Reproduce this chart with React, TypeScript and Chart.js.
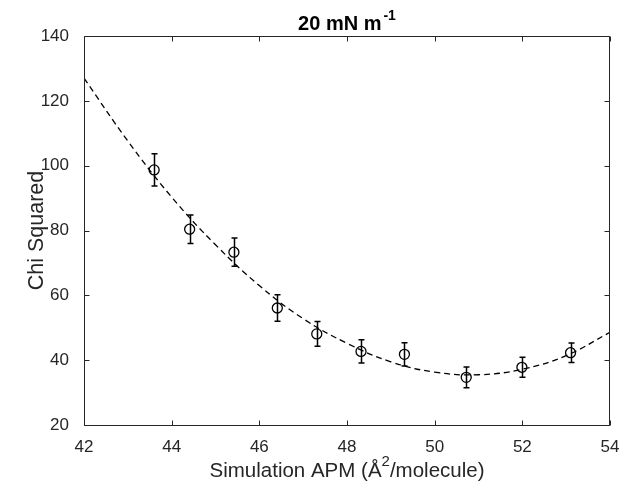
import React, { useEffect, useRef } from "react";
import { Chart, registerables } from "chart.js";

Chart.register(...registerables);

// Measured data points (Simulation APM vs Chi Squared)
const pointX = [43.6, 44.41, 45.42, 46.41, 47.31, 48.32, 49.31, 50.72, 51.99, 53.1];
const pointY = [98.7, 80.4, 73.3, 56.1, 48.1, 42.7, 41.8, 34.7, 37.8, 42.3];
const errorY = [5.0, 4.4, 4.35, 4.1, 3.8, 3.6, 3.6, 3.2, 3.1, 3.0];

// Dashed fit curve
const fitX = [42, 43, 44, 45, 46, 47, 48, 49, 50, 51, 52, 53, 54];
const fitY = [127, 107.6, 90.3, 75.6, 63, 52.8, 45.2, 39.5, 36.3, 35.5, 37.2, 41.4, 48.6];

const xTicks = [42, 44, 46, 48, 50, 52, 54];
const yTicks = [20, 40, 60, 80, 100, 120, 140];

const FONT = '"Liberation Sans", Arial, Helvetica, sans-serif';
const AXIS_COLOR = "#262626";

const decor = {
  id: "decor",
  afterDatasetsDraw(chart: any) {
    const { ctx, chartArea: a, scales } = chart;
    const x = scales.x;
    const y = scales.y;
    ctx.save();
    // error bars
    ctx.strokeStyle = "#000";
    ctx.lineWidth = 1.5;
    pointX.forEach((px, i) => {
      const cx = Math.round(x.getPixelForValue(px)) + 0.5;
      const top = y.getPixelForValue(pointY[i] + errorY[i]);
      const bot = y.getPixelForValue(pointY[i] - errorY[i]);
      ctx.beginPath();
      ctx.moveTo(cx, top);
      ctx.lineTo(cx, bot);
      ctx.moveTo(cx - 3, top);
      ctx.lineTo(cx + 3, top);
      ctx.moveTo(cx - 3, bot);
      ctx.lineTo(cx + 3, bot);
      ctx.stroke();
    });

    // axes box
    ctx.strokeStyle = AXIS_COLOR;
    ctx.lineWidth = 1;
    const L = a.left + 0.5;
    const R = a.right - 0.5;
    const T = a.top + 0.5;
    const B = a.bottom + 0.5;
    ctx.beginPath();
    ctx.rect(L, T, R - L, B - T);
    ctx.stroke();

    // inward tick marks
    const tl = 5;
    ctx.beginPath();
    xTicks.forEach((v) => {
      const px = Math.round(x.getPixelForValue(v)) + 0.5;
      ctx.moveTo(px, B);
      ctx.lineTo(px, B - tl);
      ctx.moveTo(px, T);
      ctx.lineTo(px, T + tl);
    });
    yTicks.forEach((v) => {
      const py = Math.round(y.getPixelForValue(v)) + 0.5;
      ctx.moveTo(L, py);
      ctx.lineTo(L + tl, py);
      ctx.moveTo(R, py);
      ctx.lineTo(R - tl, py);
    });
    ctx.stroke();

    const cxMid = (a.left + a.right) / 2;

    // title: 20 mN m^-1
    ctx.fillStyle = "#000";
    ctx.textBaseline = "alphabetic";
    ctx.textAlign = "left";
    const tMain = "20 mN m";
    const tSup = "-1";
    ctx.font = `bold 20px ${FONT}`;
    const wMain = ctx.measureText(tMain).width;
    ctx.font = `bold 14px ${FONT}`;
    const wSup = ctx.measureText(tSup).width;
    const tStart = cxMid - (wMain + wSup + 2) / 2;
    ctx.font = `bold 20px ${FONT}`;
    ctx.fillText(tMain, tStart, 30);
    ctx.font = `bold 14px ${FONT}`;
    ctx.fillText(tSup, tStart + wMain + 2, 20);

    // x label
    ctx.fillStyle = AXIS_COLOR;
    const xl1 = "Simulation APM (Å";
    const xl2 = "2";
    const xl3 = "/molecule)";
    ctx.font = `20.5px ${FONT}`;
    const w1 = ctx.measureText(xl1).width;
    const w3 = ctx.measureText(xl3).width;
    ctx.font = `15px ${FONT}`;
    const w2 = ctx.measureText(xl2).width;
    const xs = cxMid - (w1 + w2 + w3) / 2;
    ctx.font = `20.5px ${FONT}`;
    ctx.fillText(xl1, xs, 477);
    ctx.font = `15px ${FONT}`;
    ctx.fillText(xl2, xs + w1, 466);
    ctx.font = `20.5px ${FONT}`;
    ctx.fillText(xl3, xs + w1 + w2, 477);

    // y label
    ctx.save();
    ctx.translate(43, (a.top + a.bottom) / 2);
    ctx.rotate(-Math.PI / 2);
    ctx.textAlign = "center";
    ctx.font = `21.5px ${FONT}`;
    ctx.fillText("Chi Squared", 0, 0);
    ctx.restore();

    ctx.restore();
  },
};

export default function App() {
  const ref = useRef<HTMLCanvasElement | null>(null);
  useEffect(() => {
    if (!ref.current) return;
    const chart = new Chart(ref.current, {
      type: "scatter",
      data: {
        datasets: [
          {
            type: "line",
            label: "fit",
            data: fitX.map((v, i) => ({ x: v, y: fitY[i] })),
            borderColor: "#000",
            borderWidth: 1.3,
            borderDash: [6, 4],
            pointRadius: 0,
            tension: 0.4,
            fill: false,
          } as any,
          {
            type: "scatter",
            label: "data",
            data: pointX.map((v, i) => ({ x: v, y: pointY[i] })),
            borderColor: "#000",
            backgroundColor: "rgba(0,0,0,0)",
            borderWidth: 1.3,
            pointRadius: 5,
            pointStyle: "circle",
          },
        ],
      },
      options: {
        animation: false,
        responsive: false,
        layout: { padding: { top: 36, right: 14, left: 0, bottom: 0 } },
        plugins: {
          legend: { display: false },
          tooltip: { enabled: false },
          title: { display: false },
        },
        scales: {
          x: {
            type: "linear",
            min: 42,
            max: 54,
            grid: { display: false },
            border: { display: false },
            afterFit: (s: any) => {
              s.height = 61;
            },
            afterBuildTicks: (s: any) => {
              s.ticks = xTicks.map((v) => ({ value: v }));
            },
            ticks: {
              color: AXIS_COLOR,
              font: { size: 17, family: FONT },
              padding: 4,
              maxRotation: 0,
            },
          },
          y: {
            type: "linear",
            min: 20,
            max: 140,
            grid: { display: false },
            border: { display: false },
            afterFit: (s: any) => {
              s.width = 84;
            },
            afterBuildTicks: (s: any) => {
              s.ticks = yTicks.map((v) => ({ value: v }));
            },
            ticks: {
              color: AXIS_COLOR,
              font: { size: 17, family: FONT },
              padding: 7,
            },
          },
        },
      },
      plugins: [decor],
    });
    return () => chart.destroy();
  }, []);
  return (
    <div style={{ position: "fixed", left: 0, top: 0, width: 624, height: 486, background: "#fff" }}>
      <canvas ref={ref} width={624} height={486} />
    </div>
  );
}
